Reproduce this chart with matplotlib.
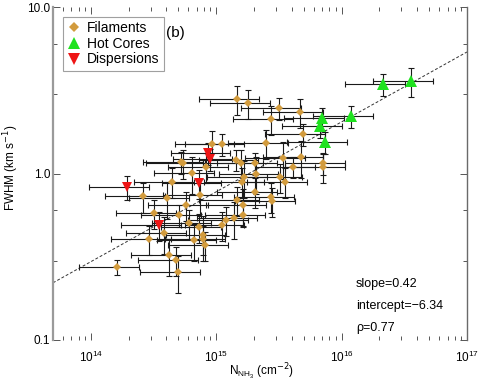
import matplotlib
matplotlib.use("Agg")
import matplotlib.pyplot as plt
import numpy as np
from matplotlib.ticker import LogLocator, FixedLocator, NullFormatter, FuncFormatter
from matplotlib.lines import Line2D

plt.rcParams['font.family'] = ['Liberation Sans', 'DejaVu Sans']

# ---------------- data ----------------
fil_N = [1.47e15, 1.79e15, 3.17e15, 2.72e15, 4.70e15, 4.88e15, 2.48e15, 4.72e15,
         7.05e15, 7.05e15, 9.33e14, 1.12e15, 5.25e14, 5.48e14, 4.45e14, 6.43e14,
         8.32e14, 1.45e15, 2.59e14, 4.06e14, 3.17e14, 5.75e14, 7.48e14, 5.02e14,
         6.11e14, 3.85e14, 2.89e14, 7.26e14, 6.70e14, 7.82e14, 8.21e14, 7.91e14,
         4.18e14, 4.79e14, 4.93e14, 1.61e14, 1.19e15, 1.40e15, 1.12e15, 1.46e15,
         1.58e15, 2.03e15, 3.39e15, 3.52e15, 3.21e15, 4.08e15, 2.09e15, 2.03e15,
         2.76e15, 1.68e15, 1.61e15, 1.65e15, 2.81e15, 1.63e15]
fil_F = [2.80, 2.66, 2.46, 2.12, 2.33, 1.72, 1.52, 1.26,
         1.15, 1.09, 1.50, 1.50, 1.17, 1.16, 0.893, 1.01,
         1.10, 1.21, 0.728, 0.708, 0.581, 0.647, 0.743, 0.563,
         0.506, 0.441, 0.403, 0.475, 0.399, 0.403, 0.373, 0.428,
         0.324, 0.302, 0.257, 0.274, 0.526, 0.538, 0.4925, 0.693,
         1.15, 1.15, 1.24, 0.893, 0.956, 1.10, 1.00, 0.778,
         0.726, 0.956, 0.893, 0.647, 0.681, 0.563]
fil_N_rel = [0.5] * 54
fil_F_rel = [0.20, 0.20, 0.15, 0.20, 0.20, 0.15, 0.20, 0.25,
             0.15, 0.20, 0.20, 0.15, 0.15, 0.20, 0.20, 0.25,
             0.20, 0.15, 0.20, 0.25, 0.20, 0.20, 0.25, 0.15,
             0.20, 0.25, 0.20, 0.20, 0.25, 0.20, 0.20, 0.30,
             0.25, 0.20, 0.25, 0.10, 0.20, 0.25, 0.20, 0.20,
             0.20, 0.15, 0.25, 0.20, 0.20, 0.15, 0.25, 0.20,
             0.20, 0.25, 0.20, 0.25, 0.20, 0.15]

hot_N = [7.0e15, 6.7e15, 1.18e16, 7.35e15, 2.13e16, 3.56e16]
hot_F = [2.15, 1.93, 2.21, 1.55, 3.45, 3.59]
hot_N_rel = [0.5, 0.5, 0.5, 0.5, 0.5, 0.5]
hot_F_rel = [0.15, 0.15, 0.15, 0.15, 0.15, 0.20]

dis_N = [1.94e14, 7.35e14, 8.67e14, 8.99e14, 3.47e14]
dis_F = [0.83, 0.877, 1.33, 1.22, 0.491]
dis_N_rel = [0.5, 0.5, 0.5, 0.5, 0.5]
dis_F_rel = [0.17, 0.20, 0.15, 0.15, 0.20]

fit_slope = 0.42
fit_intercept_drawn = -6.41
fit_labels = ["slope=0.42", "intercept=\u22126.34", "\u03c1=0.77"]

x_range = [5e13, 1e17]
y_range = [0.1, 10.0]
y_tick_vals = [0.1, 1.0, 10.0]
y_tick_labels = ["0.1", "1.0", "10.0"]

legend_labels = ["Filaments", "Hot Cores", "Dispersions"]

# ---------------- figure ----------------
W, H = 480, 384
fig = plt.figure(figsize=(4.8, 3.84), dpi=100)
ax = fig.add_axes([53 / W, 1 - 340 / H, (467 - 53) / W, (340 - 7) / H])
ax.set_xscale('log')
ax.set_yscale('log')
ax.set_xlim(*x_range)
ax.set_ylim(*y_range)

c_fil = '#D29B3D'
c_hot = '#1FE21F'
c_dis = '#EE1515'
c_err = '#1a1a1a'


def draw(N, F, Nr, Fr, marker, color, ms):
    N = np.array(N); F = np.array(F)
    xe = np.array(Nr) * N
    ye = np.array(Fr) * F
    ax.errorbar(N, F, xerr=xe, yerr=ye, fmt='none', ecolor=c_err,
                elinewidth=0.8, capsize=2.5, capthick=0.8, zorder=2)
    ax.plot(N, F, linestyle='none', marker=marker, color=color,
            markersize=ms, markeredgewidth=0, zorder=3)


draw(fil_N, fil_F, fil_N_rel, fil_F_rel, 'D', c_fil, 4.3)
draw(hot_N, hot_F, hot_N_rel, hot_F_rel, '^', c_hot, 8)
draw(dis_N, dis_F, dis_N_rel, dis_F_rel, 'v', c_dis, 7.5)

# fit line
xl = np.logspace(np.log10(x_range[0]), np.log10(x_range[1]), 50)
ax.plot(xl, 10 ** (fit_slope * np.log10(xl) + fit_intercept_drawn),
        linestyle=(0, (3, 2)), color='#333333', linewidth=0.7, zorder=1)

# spines / ticks
for s in ['top', 'bottom']:
    ax.spines[s].set_visible(False)
ax.spines['left'].set_color('#9a9a9a')
ax.spines['left'].set_linewidth(1.6)
ax.spines['right'].set_color('#6a6a6a')
ax.spines['right'].set_linewidth(1.0)

ax.xaxis.set_major_locator(LogLocator(base=10, numticks=10))
ax.xaxis.set_minor_locator(LogLocator(base=10, subs=np.arange(2, 10), numticks=20))
ax.xaxis.set_minor_formatter(NullFormatter())
ax.yaxis.set_major_locator(FixedLocator(y_tick_vals))
ax.yaxis.set_major_formatter(FuncFormatter(
    lambda v, p: y_tick_labels[y_tick_vals.index(v)] if v in y_tick_vals else ""))
ax.yaxis.set_minor_locator(LogLocator(base=10, subs=(3.0, 6.0), numticks=10))
ax.yaxis.set_minor_formatter(NullFormatter())

ax.tick_params(axis='both', which='both', direction='in', top=True, right=True,
               color='#555555', width=0.7)
ax.tick_params(axis='both', which='major', length=5, labelsize=8.5)
ax.tick_params(axis='both', which='minor', length=3)
ax.tick_params(axis='x', which='major', pad=7)
ax.tick_params(axis='y', which='major', pad=2)

fig.text(262 / W, 1 - 372 / H, r'N$_{\mathregular{NH_3}}$ (cm$^{-2}$)', fontsize=8.5,
         ha='center', va='center')
fig.text(11 / W, 1 - 168 / H, r'FWHM (km s$^{-1}$)', fontsize=8.5,
         ha='center', va='center', rotation=90)

# legend
handles = [Line2D([], [], linestyle='none', marker='D', color=c_fil, markersize=5, markeredgewidth=0),
           Line2D([], [], linestyle='none', marker='^', color=c_hot, markersize=8, markeredgewidth=0),
           Line2D([], [], linestyle='none', marker='v', color=c_dis, markersize=8, markeredgewidth=0)]
leg = ax.legend(handles, legend_labels, loc='upper left',
                bbox_to_anchor=(63 / W, 1 - 17 / H), bbox_transform=fig.transFigure,
                borderaxespad=0, fontsize=10, frameon=True, fancybox=False,
                handlelength=1.0, handletextpad=0.45, borderpad=0.3,
                labelspacing=0.12)
leg.get_frame().set_edgecolor('#888888')
leg.get_frame().set_linewidth(0.8)

fig.text(166 / W, 1 - 33 / H, '(b)', fontsize=11, ha='left', va='center')

for i, t in enumerate(fit_labels):
    fig.text(356 / W, 1 - (284 + 22 * i) / H, t, fontsize=9, ha='left', va='center')

fig.savefig('out.png', dpi=100)
